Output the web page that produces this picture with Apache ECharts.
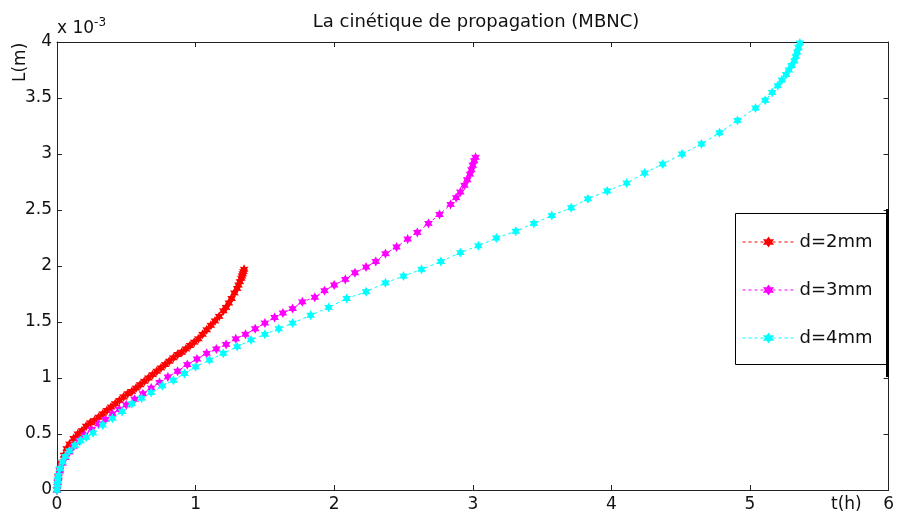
<!DOCTYPE html>
<html>
<head>
<meta charset="utf-8">
<script src="https://cdn.jsdelivr.net/npm/echarts@6/dist/echarts.min.js"></script>
<style>html,body{margin:0;padding:0;background:#fff;}#c{width:897px;height:519px;}</style>
</head>
<body>
<div id="c"></div>
<script>
// Data (L in units of 1e-3 m, t in hours)
const seriesNames = ['d=2mm', 'd=3mm', 'd=4mm'];
const t2 = [0,0.005,0.01,0.02,0.03,0.05,0.07,0.09,0.12,0.15,0.18,0.21,0.24,0.27,0.30,0.33,0.36,0.39,0.42,0.45,0.48,0.51,0.54,0.57,0.60,0.63,0.66,0.69,0.72,0.75,0.78,0.81,0.84,0.87,0.90,0.93,0.96,0.99,1.02,1.05,1.08,1.11,1.14,1.17,1.20,1.22,1.24,1.26,1.28,1.30,1.31,1.32,1.33,1.335,1.34,1.345,1.35];
const L2 = [0,0.07,0.12,0.18,0.24,0.31,0.37,0.41,0.46,0.50,0.53,0.57,0.60,0.62,0.65,0.68,0.71,0.74,0.77,0.80,0.83,0.86,0.88,0.91,0.94,0.97,1.00,1.03,1.06,1.09,1.12,1.15,1.18,1.21,1.23,1.26,1.29,1.32,1.35,1.39,1.43,1.47,1.51,1.55,1.60,1.63,1.67,1.71,1.76,1.80,1.83,1.86,1.89,1.91,1.93,1.95,1.97];
const t3 = [0,0.005,0.01,0.02,0.04,0.06,0.09,0.12,0.16,0.20,0.25,0.30,0.35,0.40,0.45,0.50,0.56,0.62,0.68,0.74,0.80,0.87,0.94,1.01,1.08,1.15,1.22,1.29,1.36,1.43,1.50,1.57,1.63,1.70,1.77,1.86,1.93,2.00,2.08,2.15,2.23,2.30,2.37,2.45,2.53,2.60,2.68,2.76,2.84,2.88,2.91,2.94,2.96,2.98,2.99,3.00,3.01,3.02];
const L3 = [0,0.07,0.11,0.17,0.24,0.29,0.34,0.39,0.44,0.49,0.54,0.59,0.63,0.68,0.72,0.76,0.81,0.86,0.91,0.96,1.01,1.06,1.12,1.17,1.22,1.26,1.30,1.35,1.39,1.44,1.49,1.54,1.58,1.62,1.68,1.72,1.78,1.83,1.88,1.94,1.99,2.04,2.11,2.17,2.24,2.30,2.38,2.46,2.55,2.61,2.66,2.72,2.77,2.82,2.86,2.90,2.94,2.97];
const t4 = [0,0.003,0.006,0.01,0.02,0.04,0.06,0.09,0.13,0.17,0.21,0.26,0.33,0.40,0.47,0.54,0.61,0.68,0.76,0.84,0.92,1.00,1.10,1.20,1.30,1.40,1.50,1.60,1.70,1.83,1.96,2.09,2.23,2.37,2.50,2.63,2.77,2.91,3.04,3.17,3.31,3.44,3.57,3.71,3.83,3.97,4.11,4.24,4.37,4.51,4.65,4.78,4.91,5.04,5.11,5.16,5.20,5.23,5.26,5.28,5.30,5.32,5.33,5.34,5.35,5.36];
const L4 = [0,0.05,0.09,0.13,0.19,0.25,0.30,0.35,0.40,0.44,0.47,0.51,0.58,0.64,0.70,0.77,0.82,0.87,0.93,0.98,1.04,1.10,1.16,1.22,1.28,1.34,1.39,1.44,1.49,1.56,1.63,1.71,1.77,1.85,1.91,1.97,2.04,2.12,2.18,2.25,2.31,2.38,2.45,2.52,2.60,2.67,2.74,2.83,2.91,3.00,3.09,3.19,3.30,3.41,3.48,3.55,3.61,3.66,3.71,3.75,3.79,3.83,3.87,3.91,3.95,3.99];
const colors = ['#ff0000', '#ff00ff', '#00ffff'];
const xTicks = {min: 0, max: 6, interval: 1};
const yTicks = {min: 0, max: 4, interval: 0.5};

const star = 'path://M50 0 L64 25.75 L93.3 25 L78 50 L93.3 75 L64 74.25 L50 100 L36 74.25 L6.7 75 L22 50 L6.7 25 L36 25.75 Z';
const FONT = 'DejaVu Sans';

function pairs(t, L) { return t.map((v, i) => [v, L[i]]); }
const dataSets = [pairs(t2, L2), pairs(t3, L3), pairs(t4, L4)];

const chart = echarts.init(document.getElementById('c'), null, {renderer: 'canvas'});
const axisLine = {show: true, onZero: false, lineStyle: {color: '#222', width: 1}};
const tick = {show: true, inside: true, length: 5, lineStyle: {color: '#222'}};

chart.setOption({
  backgroundColor: '#fff',
  animation: false,
  title: {
    text: 'La cinétique de propagation (MBNC)',
    left: 471, top: 8, textAlign: 'center',
    textStyle: {fontFamily: FONT, fontSize: 18, fontWeight: 'normal', color: '#111'}
  },
  grid: {left: 57, right: 8, top: 42, bottom: 29, containLabel: false},
  xAxis: [
    {type: 'value', min: xTicks.min, max: xTicks.max, interval: xTicks.interval, position: 'bottom',
     axisLine: axisLine, axisTick: tick, splitLine: {show: false},
     axisLabel: {margin: 6, fontFamily: FONT, fontSize: 17, color: '#111'}},
    {type: 'value', min: xTicks.min, max: xTicks.max, interval: xTicks.interval, position: 'top',
     axisLine: axisLine, axisTick: tick, splitLine: {show: false}, axisLabel: {show: false}}
  ],
  yAxis: [
    {type: 'value', min: yTicks.min, max: yTicks.max, interval: yTicks.interval, position: 'left',
     axisLine: axisLine, axisTick: tick, splitLine: {show: false},
     axisLabel: {margin: 5, fontFamily: FONT, fontSize: 17, color: '#111'}},
    {type: 'value', min: yTicks.min, max: yTicks.max, interval: yTicks.interval, position: 'right',
     axisLine: axisLine, axisTick: tick, splitLine: {show: false}, axisLabel: {show: false}}
  ],
  legend: {
    orient: 'vertical', left: 742, top: 233, z: 20,
    padding: 0, itemGap: 30, itemWidth: 52, itemHeight: 14,
    lineStyle: {width: 1},
    textStyle: {fontFamily: FONT, fontSize: 18, color: '#111'},
    data: seriesNames
  },
  graphic: [
    {type: 'text', left: 57, top: 17, style: {
      text: '{a|x 10}{b|-3}', rich: {
        a: {fontFamily: FONT, fontSize: 17, fill: '#111', verticalAlign: 'bottom', lineHeight: 20},
        b: {fontFamily: FONT, fontSize: 12, fill: '#111', verticalAlign: 'top', lineHeight: 20, padding: [0, 0, 8, 0]}
      }}},
    {type: 'text', x: 12, y: 82, rotation: Math.PI / 2, style: {
      text: 'L(m)', fontFamily: FONT, fontSize: 17, fill: '#111', textVerticalAlign: 'top'}},
    {type: 'text', left: 831, top: 496, style: {
      text: 't(h)', fontFamily: FONT, fontSize: 17, fill: '#111'}},
    {type: 'rect', shape: {x: 735.5, y: 213.5, width: 151, height: 151},
     style: {fill: '#fff', stroke: '#000', lineWidth: 1}, z: 1},
    {type: 'rect', shape: {x: 886, y: 209, width: 3, height: 168}, style: {fill: '#000'}, z: 1}
  ],
  series: dataSets.map((d, i) => ({
    name: seriesNames[i], type: 'line', data: d,
    xAxisIndex: 0, yAxisIndex: 0,
    symbol: star, symbolSize: 10, symbolKeepAspect: true,
    showSymbol: true, showAllSymbol: true,
    lineStyle: {color: colors[i], width: 1, type: [3, 3]},
    itemStyle: {color: colors[i], borderWidth: 0},
    clip: false, z: 2 + i
  }))
});
</script>
</body>
</html>
